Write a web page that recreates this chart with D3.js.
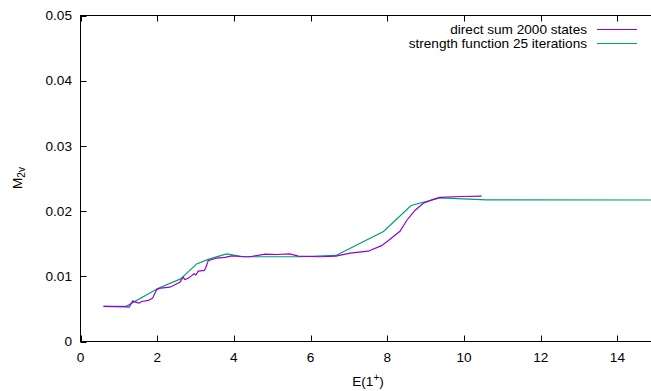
<!DOCTYPE html>
<html>
<head>
<meta charset="utf-8">
<script src="https://cdn.jsdelivr.net/npm/d3@7"></script>
<style>
  body { margin: 0; background: #fff; }
  svg text { font-family: "Liberation Sans", Arial, Helvetica, sans-serif; font-size: 13.6px; fill: #000; }
</style>
</head>
<body>
<div id="chart"></div>
<script>
// direct sum over 2000 states (purple)
var directE = [0.6, 1.19, 1.27, 1.36, 1.46, 1.53, 1.59, 1.77, 1.88, 1.99, 2.09, 2.33, 2.46, 2.59, 2.68, 2.72,
  2.81, 2.90, 2.96, 3.01, 3.07, 3.23, 3.27, 3.33, 3.55, 3.77, 3.94, 4.25, 4.42, 4.81, 5.12, 5.46, 5.68,
  6.25, 6.66, 7.03, 7.50, 7.85, 8.03, 8.33, 8.51, 8.72, 8.94, 9.2, 9.37, 9.9, 10.46];
var directM = [0.0054, 0.0053, 0.00526, 0.0062, 0.0060, 0.00588, 0.00613, 0.0063, 0.00665, 0.0080, 0.00818,
  0.00833, 0.0087, 0.0091, 0.00986, 0.0095, 0.0097, 0.0101, 0.0104, 0.0102, 0.0108, 0.0109, 0.0114, 0.0124,
  0.0128, 0.0129, 0.01314, 0.0130, 0.0130, 0.0134, 0.01334, 0.01345, 0.0131, 0.0130, 0.0131, 0.01355,
  0.01385, 0.0147, 0.0155, 0.0169, 0.0186, 0.0201, 0.0212, 0.0218, 0.0221, 0.02224, 0.02229];

// strength function, 25 iterations (green)
var strengthE = [0.6, 1.19, 2.03, 2.61, 3.03, 3.33, 3.81, 4.25, 5.72, 6.66, 7.9, 8.62, 9.37, 10.59, 15];
var strengthM = [0.0054, 0.0054, 0.00818, 0.0096, 0.0119, 0.0126, 0.01345, 0.0130, 0.0130, 0.0132,
  0.01687, 0.02086, 0.02204, 0.02173, 0.0217];

var xTicks = [0, 2, 4, 6, 8, 10, 12, 14];
var yTicks = [0, 0.01, 0.02, 0.03, 0.04, 0.05];
var seriesNames = ["direct sum 2000 states", "strength function 25 iterations"];
var seriesColors = ["#9400d3", "#009e73"];

var width = 651, height = 391;
// plot frame edges (the right edge falls just outside the picture, as in the original)
var plotLeft = 80.5, plotTop = 15.5, plotBottom = 341.5, plotRight = 655.75;

var svg = d3.select("#chart").append("svg")
  .attr("width", width)
  .attr("height", height);

var x = d3.scaleLinear().domain([0, 15]).range([plotLeft, plotRight]);
var y = d3.scaleLinear().domain([0, 0.05]).range([plotBottom, plotTop]);

// tick marks (gnuplot style, pointing inward, mirrored on top)
var ticks = svg.append("g").attr("stroke", "#000").attr("stroke-width", 1);
xTicks.forEach(function(t) {
  var px = Math.round(x(t)) + 0.5;
  ticks.append("line").attr("x1", px).attr("x2", px).attr("y1", plotBottom).attr("y2", plotBottom - 6);
  ticks.append("line").attr("x1", px).attr("x2", px).attr("y1", plotTop).attr("y2", plotTop + 6);
});
yTicks.forEach(function(t) {
  var py = Math.round(y(t)) + 0.5;
  ticks.append("line").attr("x1", plotLeft).attr("x2", plotLeft + 6).attr("y1", py).attr("y2", py);
});

// tick labels
svg.append("g").selectAll("text")
  .data(xTicks)
  .enter()
  .append("text")
  .attr("x", d => x(d))
  .attr("y", 362)
  .attr("text-anchor", "middle")
  .text(d => d);

svg.append("g").selectAll("text")
  .data(yTicks)
  .enter()
  .append("text")
  .attr("x", 72)
  .attr("y", d => y(d))
  .attr("dy", "0.35em")
  .attr("text-anchor", "end")
  .text(d => d === 0 ? "0" : d.toFixed(2));

// series lines
var line = d3.line()
  .x(d => x(d[0]))
  .y(d => y(d[1]));

svg.append("path")
  .datum(strengthE.map((e, i) => [e, strengthM[i]]))
  .attr("d", line)
  .attr("fill", "none")
  .attr("stroke", seriesColors[1])
  .attr("stroke-width", 1.2);

svg.append("path")
  .datum(directE.map((e, i) => [e, directM[i]]))
  .attr("d", line)
  .attr("fill", "none")
  .attr("stroke", seriesColors[0])
  .attr("stroke-width", 1.2);

// frame
svg.append("rect")
  .attr("x", plotLeft)
  .attr("y", plotTop)
  .attr("width", plotRight - plotLeft)
  .attr("height", plotBottom - plotTop)
  .attr("fill", "none")
  .attr("stroke", "#000")
  .attr("stroke-width", 1);

// legend
var legend = svg.append("g");
seriesNames.forEach(function(name, i) {
  var ly = 29.5 + i * 14;
  legend.append("text")
    .attr("x", 587)
    .attr("y", ly)
    .attr("dy", "0.35em")
    .attr("text-anchor", "end")
    .text(name);
  legend.append("line")
    .attr("x1", 597).attr("x2", 637)
    .attr("y1", ly).attr("y2", ly)
    .attr("stroke", seriesColors[i])
    .attr("stroke-width", 1.2);
});

// axis titles
svg.append("text")
  .attr("x", 368)
  .attr("y", 386)
  .attr("text-anchor", "middle")
  .html('E(1<tspan dy="-5" font-size="10px">+</tspan><tspan dy="5">)</tspan>');

svg.append("text")
  .attr("transform", "translate(22, 178) rotate(-90)")
  .attr("text-anchor", "middle")
  .html('M<tspan dy="3" font-size="10px">2v</tspan>');
</script>
</body>
</html>
